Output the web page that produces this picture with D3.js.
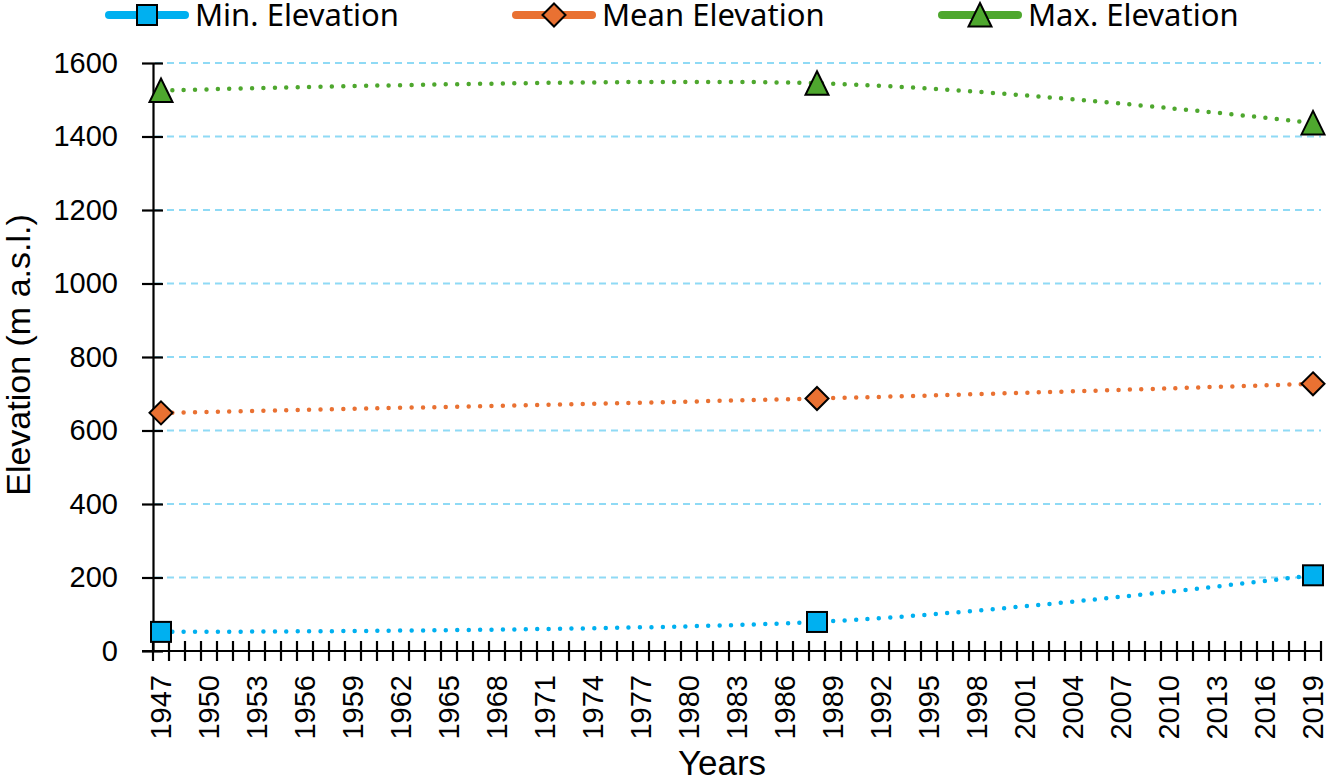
<!DOCTYPE html>
<html>
<head>
<meta charset="utf-8">
<script src="https://cdn.jsdelivr.net/npm/d3@7"></script>
<style>
  html, body { margin: 0; padding: 0; background: #fff; }
  svg { display: block; }
</style>
</head>
<body>
<svg id="chart" width="1326" height="779"></svg>
<script>
// ---- Data ----
const years = [1947, 1988, 2019];
const minElevation = [52, 79, 206];
const meanElevation = [648, 687, 727];
const maxElevation = [1525, 1545, 1437];
const seriesNames = ["Min. Elevation", "Mean Elevation", "Max. Elevation"];
const yTicks = [0, 200, 400, 600, 800, 1000, 1200, 1400, 1600];
const firstYear = 1947, lastYear = 2019, labelStep = 3;

// ---- Setup ----
const svg = d3.select("#chart");
const mLeft = 153, mRight = 1321, mTop = 63, mBottom = 651;

const allYears = d3.range(firstYear, lastYear + 1);
const x = d3.scaleBand().domain(allYears).range([mLeft, mRight]).padding(0);
const y = d3.scaleLinear().domain([0, 1600]).range([mBottom, mTop]);

const colors = ["#00b0f0", "#e97132", "#4ea72e"];
const tickFont = "'Liberation Sans', Arial, sans-serif";

// gridlines
svg.append("g").selectAll("line").data(yTicks.filter(d => d > 0)).join("line")
  .attr("x1", mLeft + 2).attr("x2", mRight)
  .attr("y1", d => y(d)).attr("y2", d => y(d))
  .attr("stroke", "#8fdaf5").attr("stroke-width", 2)
  .attr("stroke-dasharray", "7,5");

// y axis
const yAxis = svg.append("g").attr("transform", `translate(${mLeft},0)`)
  .call(d3.axisLeft(y).tickValues(yTicks).tickFormat(d3.format("d")).tickSize(11).tickPadding(24).tickSizeOuter(0));
yAxis.select(".domain").attr("stroke", "#000").attr("stroke-width", 2.2);
yAxis.selectAll(".tick line").attr("stroke", "#000").attr("stroke-width", 2.2).attr("x1", 10).attr("x2", -11);
yAxis.selectAll(".tick text").attr("font-family", tickFont).attr("font-size", 29).attr("fill", "#000")
  .attr("x", -35);

// x axis
const xg = svg.append("g");
xg.append("line").attr("x1", mLeft - 11).attr("x2", mRight).attr("y1", mBottom).attr("y2", mBottom)
  .attr("stroke", "#000").attr("stroke-width", 2.2);
const bounds = allYears.map(d => x(d)).concat([x(lastYear) + x.bandwidth()]);
xg.selectAll("line.tk").data(bounds).join("line").attr("class", "tk")
  .attr("x1", d => d).attr("x2", d => d).attr("y1", mBottom - 10).attr("y2", mBottom + 10)
  .attr("stroke", "#000").attr("stroke-width", 2.2);
xg.selectAll("text").data(allYears.filter(d => (d - firstYear) % labelStep === 0)).join("text")
  .attr("transform", d => `translate(${x(d) + x.bandwidth() / 2 + 10},${mBottom + 24}) rotate(-90)`)
  .attr("text-anchor", "end")
  .attr("font-family", tickFont).attr("font-size", 29).attr("fill", "#000")
  .text(d => d);

// axis titles
svg.append("text").attr("transform", `translate(30,${(mTop + mBottom) / 2 - 2}) rotate(-90)`)
  .attr("text-anchor", "middle").attr("font-family", tickFont).attr("font-size", 34)
  .text("Elevation (m a.s.l.)");
svg.append("text").attr("x", (mLeft + mRight) / 2 - 15).attr("y", 775)
  .attr("text-anchor", "middle").attr("font-family", tickFont).attr("font-size", 35)
  .text("Years");

// markers
function marker(g, i, cx, cy) {
  if (i === 0) {
    g.append("rect").attr("x", cx - 10).attr("y", cy - 10).attr("width", 20).attr("height", 20)
      .attr("fill", colors[i]).attr("stroke", "#000").attr("stroke-width", 2);
  } else if (i === 1) {
    g.append("path").attr("d", `M${cx},${cy - 11.5}L${cx + 11.5},${cy}L${cx},${cy + 11.5}L${cx - 11.5},${cy}Z`)
      .attr("fill", colors[i]).attr("stroke", "#000").attr("stroke-width", 2);
  } else {
    g.append("path").attr("d", `M${cx},${cy - 12}L${cx + 11.5},${cy + 11.5}L${cx - 11.5},${cy + 11.5}Z`)
      .attr("fill", colors[i]).attr("stroke", "#000").attr("stroke-width", 2);
  }
}

const series = [minElevation, meanElevation, maxElevation];
const line = d3.line().x(d => x(d[0]) + x.bandwidth() / 2).y(d => y(d[1]))
  .curve(d3.curveCardinal.tension(0));

series.forEach((vals, i) => {
  const pts = years.map((yr, j) => [yr, vals[j]]);
  svg.append("path").attr("d", line(pts)).attr("fill", "none")
    .attr("stroke", colors[i]).attr("stroke-width", 4.5)
    .attr("stroke-linecap", "round").attr("stroke-dasharray", "0,11.4");
});
series.forEach((vals, i) => {
  const g = svg.append("g");
  years.forEach((yr, j) => marker(g, i, x(yr) + x.bandwidth() / 2, y(vals[j])));
});

// legend
const legendX = [195, 602, 1028];
const legFont = "'Noto Sans', sans-serif";
seriesNames.forEach((name, i) => {
  const g = svg.append("g");
  const tx = legendX[i];
  const ly = 15;
  g.append("line").attr("x1", tx - 86).attr("x2", tx - 10).attr("y1", ly).attr("y2", ly)
    .attr("stroke", colors[i]).attr("stroke-width", 8).attr("stroke-linecap", "round");
  marker(g, i, tx - 48, ly);
  g.append("text").attr("x", tx).attr("y", ly + 11).attr("font-family", legFont)
    .attr("font-size", 31).attr("fill", "#000").text(name);
});
</script>
</body>
</html>
